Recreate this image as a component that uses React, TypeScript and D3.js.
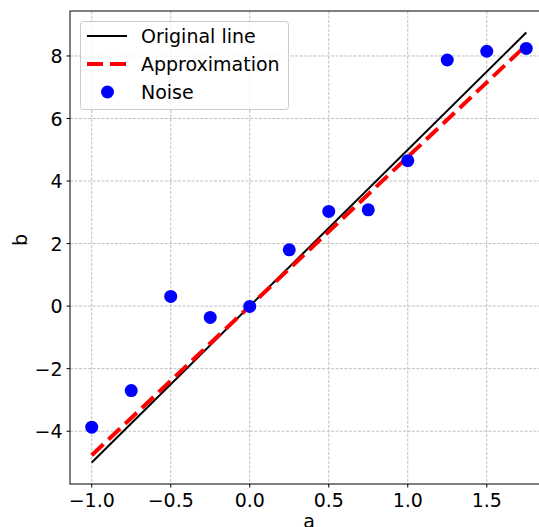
import React from "react";
import * as d3 from "d3";

const xs = [-1, -0.75, -0.5, -0.25, 0, 0.25, 0.5, 0.75, 1, 1.25, 1.5, 1.75];
const noise = [-3.87, -2.7, 0.31, -0.36, -0.01, 1.8, 3.03, 3.08, 4.65, 7.87, 8.15, 8.24];
const originalSlope = 5;
const approxSlope = 4.77;
const approxIntercept = 0.0;
const xTicks = [-1, -0.5, 0, 0.5, 1, 1.5];
const yTicks = [-4, -2, 0, 2, 4, 6, 8];
const legendLabels = ["Original line", "Approximation", "Noise"];

const W = 539, H = 527;
const left = 70, right = 548, top = 11, bottom = 484;
const font = "DejaVu Sans, sans-serif";
const fs = 19;
const fmt = (v: number, d: number) => {
  const s = Math.abs(v).toFixed(d);
  return (v < 0 ? "\u2212" : "") + s;
};

export default function App() {
  const x0 = xs[0], x1 = xs[xs.length - 1];
  const orig = xs.map((x) => ({ x, y: originalSlope * x }));
  const approx = xs.map((x) => ({ x, y: approxSlope * x + approxIntercept }));
  const allY = [...orig.map((d) => d.y), ...approx.map((d) => d.y), ...noise];
  const yMin = d3.min(allY)!, yMax = d3.max(allY)!;
  const xm = (x1 - x0) * 0.05, ym = (yMax - yMin) * 0.05;
  const xScale = d3.scaleLinear().domain([x0 - xm, x1 + xm]).range([left, right]);
  const yScale = d3.scaleLinear().domain([yMin - ym, yMax + ym]).range([bottom, top]);
  const line = d3.line<{ x: number; y: number }>().x((d) => xScale(d.x)).y((d) => yScale(d.y));
  const origEnds = [orig[0], orig[orig.length - 1]];
  const approxEnds = [approx[0], approx[approx.length - 1]];

  return (
    <svg width={W} height={H} style={{ position: "absolute", left: 0, top: 0, background: "#fff" }} fontFamily={font}>
      <defs>
        <clipPath id="plot">
          <rect x={left} y={top} width={right - left} height={bottom - top} />
        </clipPath>
      </defs>
      <g stroke="#b0b0b0" strokeWidth={0.8} strokeDasharray="3,1.5">
        {xTicks.map((t) => (
          <line key={"gx" + t} x1={xScale(t)} x2={xScale(t)} y1={top} y2={bottom} />
        ))}
        {yTicks.map((t) => (
          <line key={"gy" + t} x1={left} x2={right} y1={yScale(t)} y2={yScale(t)} />
        ))}
      </g>
      <g clipPath="url(#plot)">
        <path d={line(origEnds)!} stroke="#000" strokeWidth={2} fill="none" />
        <path d={line(approxEnds)!} stroke="#ff0000" strokeWidth={4} strokeDasharray="16,7" fill="none" />
        {xs.map((x, i) => (
          <circle key={i} cx={xScale(x)} cy={yScale(noise[i])} r={6.5} fill="#0000ff" />
        ))}
      </g>
      <rect x={left} y={top} width={right - left} height={bottom - top} fill="none" stroke="#000" strokeWidth={1} />
      {xTicks.map((t) => (
        <g key={"xt" + t}>
          <line x1={xScale(t)} x2={xScale(t)} y1={bottom} y2={bottom + 3.5} stroke="#000" strokeWidth={1} />
          <text x={xScale(t)} y={507} textAnchor="middle" fontSize={fs}>{fmt(t, 1)}</text>
        </g>
      ))}
      {yTicks.map((t) => (
        <g key={"yt" + t}>
          <line x1={left - 3.5} x2={left} y1={yScale(t)} y2={yScale(t)} stroke="#000" strokeWidth={1} />
          <text x={62.5} y={yScale(t) + 7} textAnchor="end" fontSize={fs}>{fmt(t, 0)}</text>
        </g>
      ))}
      <text x={(left + right) / 2} y={528} textAnchor="middle" fontSize={fs}>a</text>
      <text transform={`translate(26.5,240) rotate(-90)`} textAnchor="middle" fontSize={fs}>b</text>
      <g>
        <rect x={80.5} y={21.5} width={208} height={88} rx={3} fill="#fff" fillOpacity={0.8} stroke="#cccccc" strokeWidth={1} />
        <line x1={87} x2={127} y1={36} y2={36} stroke="#000" strokeWidth={2} />
        <line x1={87} x2={127} y1={64} y2={64} stroke="#ff0000" strokeWidth={4} strokeDasharray="16,7" />
        <circle cx={107.5} cy={92} r={6.5} fill="#0000ff" />
        {legendLabels.map((l, i) => (
          <text key={l} x={141} y={42.5 + i * 28} fontSize={fs}>{l}</text>
        ))}
      </g>
    </svg>
  );
}
